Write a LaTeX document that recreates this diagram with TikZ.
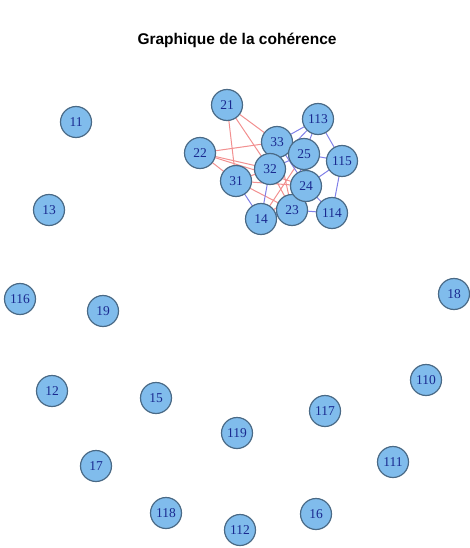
\documentclass[tikz,border=0pt]{standalone}
\usepackage{fontspec}
\setmainfont{Liberation Serif}
\newfontfamily\titlefont{Liberation Sans}
\usetikzlibrary{backgrounds}
\definecolor{vfill}{HTML}{80BCEC}
\definecolor{vdraw}{HTML}{4A6A86}
\definecolor{vtext}{HTML}{1A2A90}
\definecolor{redge}{HTML}{F29090}
\definecolor{bedge}{HTML}{8080E8}
\tikzset{
  vtx/.style={circle, fill=vfill, draw=vdraw, line width=1.2pt, minimum size=31pt, inner sep=0pt, text=vtext, font=\fontsize{13.5}{13.5}\selectfont},
  redg/.style={redge, line width=1pt},
  bedg/.style={bedge, line width=1pt},
  ttl/.style={font=\titlefont\bfseries\fontsize{15.5}{15.5}\selectfont}
}
\begin{document}
\begin{tikzpicture}[x=1pt,y=-1pt]
\useasboundingbox (0,0) rectangle (470,548);
\node[ttl] (title) at (237,40) {Graphique de la cohérence};
\node[vtx] (n21) at (227,105) {21};
\node[vtx] (n22) at (200,153) {22};
\node[vtx] (n113) at (318,119) {113};
\node[vtx] (n33) at (277,142) {33};
\node[vtx] (n115) at (342,161) {115};
\node[vtx] (n31) at (236,181) {31};
\node[vtx] (n32) at (270,169) {32};
\node[vtx] (n25) at (304,154) {25};
\node[vtx] (n114) at (332,213) {114};
\node[vtx] (n23) at (292,210) {23};
\node[vtx] (n24) at (306,186) {24};
\node[vtx] (n14) at (261,219) {14};
\node[vtx] (n11) at (76,122) {11};
\node[vtx] (n13) at (49,210) {13};
\node[vtx] (n116) at (20,299) {116};
\node[vtx] (n19) at (103,311) {19};
\node[vtx] (n18) at (454,294) {18};
\node[vtx] (n12) at (52,391) {12};
\node[vtx] (n15) at (156,398) {15};
\node[vtx] (n110) at (426,380) {110};
\node[vtx] (n117) at (325,411) {117};
\node[vtx] (n119) at (237,433) {119};
\node[vtx] (n17) at (96,466) {17};
\node[vtx] (n111) at (393,462) {111};
\node[vtx] (n118) at (166,513) {118};
\node[vtx] (n16) at (316,514) {16};
\node[vtx] (n112) at (240,530) {112};
\begin{pgfonlayer}{background}
\foreach \a/\b in {n21/n33, n21/n32, n21/n31, n22/n33, n22/n32, n22/n31, n31/n23, n31/n24, n31/n32, n14/n24, n14/n25, n32/n23, n33/n23, n22/n24}
  \draw[redg] (\a.center) -- (\b.center);
\foreach \a/\b in {n31/n14, n32/n14, n33/n113, n32/n113, n25/n113, n25/n115, n24/n115, n115/n114, n24/n114, n23/n114, n23/n24, n14/n23, n33/n24, n32/n25, n23/n25, n113/n115}
  \draw[bedg] (\a.center) -- (\b.center);
\end{pgfonlayer}
\end{tikzpicture}
\end{document}
